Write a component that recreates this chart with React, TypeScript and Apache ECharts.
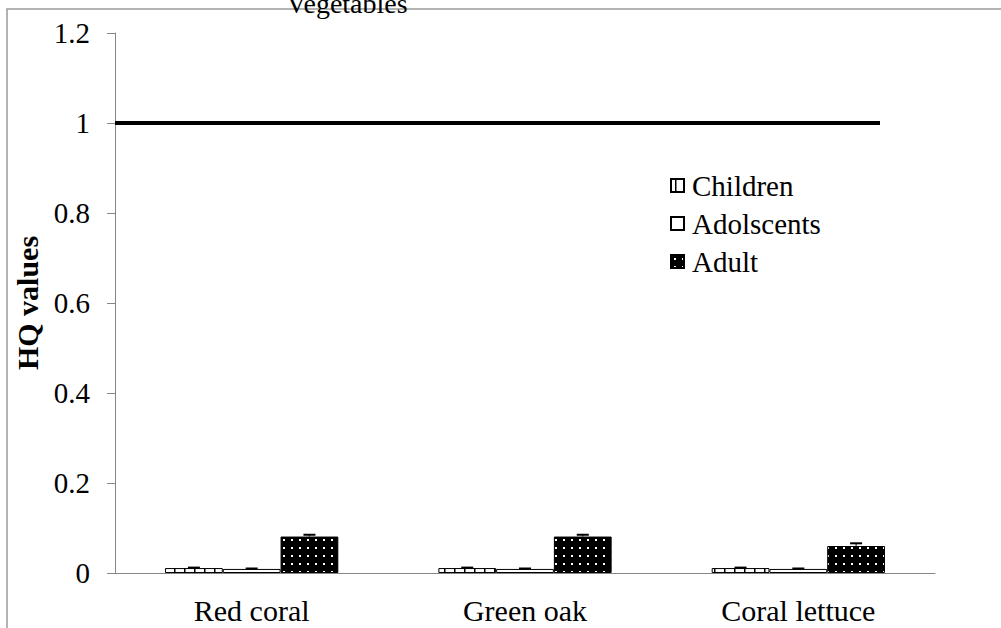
import React, { useEffect, useRef } from "react";
import * as echarts from "echarts";

const categories = ["Red coral", "Green oak", "Coral lettuce"];
const seriesNames = ["Children", "Adolscents", "Adult"];
const children = [0.011, 0.011, 0.011];
const adolescents = [0.009, 0.009, 0.009];
const adult = [0.081, 0.081, 0.06];
const childrenErr = [0.001, 0.001, 0.001];
const adolescentsErr = [0.001, 0.001, 0.001];
const adultErr = [0.004, 0.004, 0.006];
const thresholdValue = 1;
const yMax = 1.2;
const yInterval = 0.2;
const titleText = "Vegetables";
const yAxisTitle = "HQ values";

const FONT = "Liberation Serif";
const CATEGORY_GAP = 0.366;

function makeStripePattern() {
  const c = document.createElement("canvas");
  c.width = 10;
  c.height = 10;
  const ctx = c.getContext("2d")!;
  ctx.fillStyle = "#fff";
  ctx.fillRect(0, 0, 10, 10);
  ctx.fillStyle = "#000";
  ctx.fillRect(4, 0, 1.5, 10);
  return { image: c, repeat: "repeat", imageWidth: 10, imageHeight: 10 } as any;
}

function makeDotPattern() {
  const c = document.createElement("canvas");
  c.width = 8;
  c.height = 8;
  const ctx = c.getContext("2d")!;
  ctx.fillStyle = "#000";
  ctx.fillRect(0, 0, 8, 8);
  ctx.fillStyle = "#fff";
  ctx.fillRect(3, 3, 2, 2);
  return { image: c, repeat: "repeat", imageWidth: 8, imageHeight: 8 } as any;
}

export default function App() {
  const ref = useRef<HTMLDivElement>(null);

  useEffect(() => {
    if (!ref.current) return;
    const chart = echarts.init(ref.current, undefined, { renderer: "svg" });
    const fills = [makeStripePattern(), "#ffffff", makeDotPattern()];
    const values = [children, adolescents, adult];
    const errs = [childrenErr, adolescentsErr, adultErr];

    const errData: any[] = [];
    values.forEach((arr, k) => {
      arr.forEach((v, i) => {
        errData.push([i, v, errs[k][i], k]);
      });
    });

    const barSeries = seriesNames.map((name, k) => ({
      name,
      type: "bar",
      data: values[k],
      barGap: "0%",
      barCategoryGap: (CATEGORY_GAP * 100).toFixed(1) + "%",
      itemStyle: { color: fills[k], borderColor: "#000", borderWidth: 1 },
      z: 2,
      ...(k === 0
        ? {
            markLine: {
              silent: true,
              symbol: ["none", "none"],
              label: { show: false },
              lineStyle: { color: "#000", width: 4, type: "solid" },
              data: [[{ yAxis: thresholdValue, x: 115 }, { yAxis: thresholdValue, x: 880 }]],
            },
          }
        : {}),
    }));

    const option: any = {
      animation: false,
      backgroundColor: "#fff",
      textStyle: { fontFamily: FONT },
      grid: { left: 115, right: 66, top: 33, bottom: 55, containLabel: false },
      legend: {
        data: seriesNames,
        orient: "vertical",
        left: 665,
        top: 166,
        icon: "rect",
        itemWidth: 13,
        itemHeight: 13,
        itemGap: 9,
        textStyle: { fontFamily: FONT, fontSize: 29, color: "#000", padding: [0, 0, 0, 3] },
      },
      xAxis: {
        type: "category",
        data: categories,
        axisLine: { lineStyle: { color: "#868686", width: 1 } },
        axisTick: { show: false },
        axisLabel: { fontFamily: FONT, fontSize: 30, color: "#000", margin: 22 },
      },
      yAxis: {
        type: "value",
        min: 0,
        max: yMax,
        interval: yInterval,
        name: yAxisTitle,
        nameLocation: "middle",
        nameRotate: 90,
        nameGap: 66,
        nameTextStyle: { fontFamily: FONT, fontSize: 30, fontWeight: "bold", color: "#000" },
        splitLine: { show: false },
        axisLine: { show: true, lineStyle: { color: "#868686", width: 1 } },
        axisTick: { show: true, inside: false, length: 8, lineStyle: { color: "#868686" } },
        axisLabel: { fontFamily: FONT, fontSize: 29, color: "#000", margin: 25 },
      },
      graphic: [
        {
          type: "rect",
          z: -10,
          shape: { x: 7, y: 9, width: 1100, height: 1000 },
          style: { fill: "none", stroke: "#9a9a9a", lineWidth: 1.5 },
          silent: true,
        },
        {
          type: "text",
          x: 347,
          y: 17,
          style: {
            text: titleText,
            fontFamily: FONT,
            fontSize: 28,
            fill: "#000",
            textAlign: "center",
            textVerticalAlign: "bottom",
          },
        },
      ],
      series: [
        ...barSeries,
        {
          type: "custom",
          name: "err",
          z: 5,
          data: errData,
          encode: { x: 0, y: 1 },
          renderItem: (params: any, api: any) => {
            const idx = api.value(0);
            const v = api.value(1);
            const e = api.value(2);
            const k = api.value(3);
            const band = api.size([1, 0])[0];
            const barW = (band * (1 - CATEGORY_GAP)) / 3;
            const base = api.coord([idx, v]);
            const top = api.coord([idx, v + e]);
            const cx = base[0] + (k - 1) * barW;
            const capHalf = 6;
            return {
              type: "group",
              children: [
                {
                  type: "line",
                  shape: { x1: cx, y1: base[1], x2: cx, y2: top[1] },
                  style: { stroke: "#000", lineWidth: 1 },
                },
                {
                  type: "line",
                  shape: { x1: cx - capHalf, y1: top[1], x2: cx + capHalf, y2: top[1] },
                  style: { stroke: "#000", lineWidth: 2 },
                },
              ],
            };
          },
        },
      ],
    };
    chart.setOption(option);
    return () => chart.dispose();
  }, []);

  return <div ref={ref} style={{ width: 1001, height: 628, position: "absolute", left: 0, top: 0 }} />;
}
